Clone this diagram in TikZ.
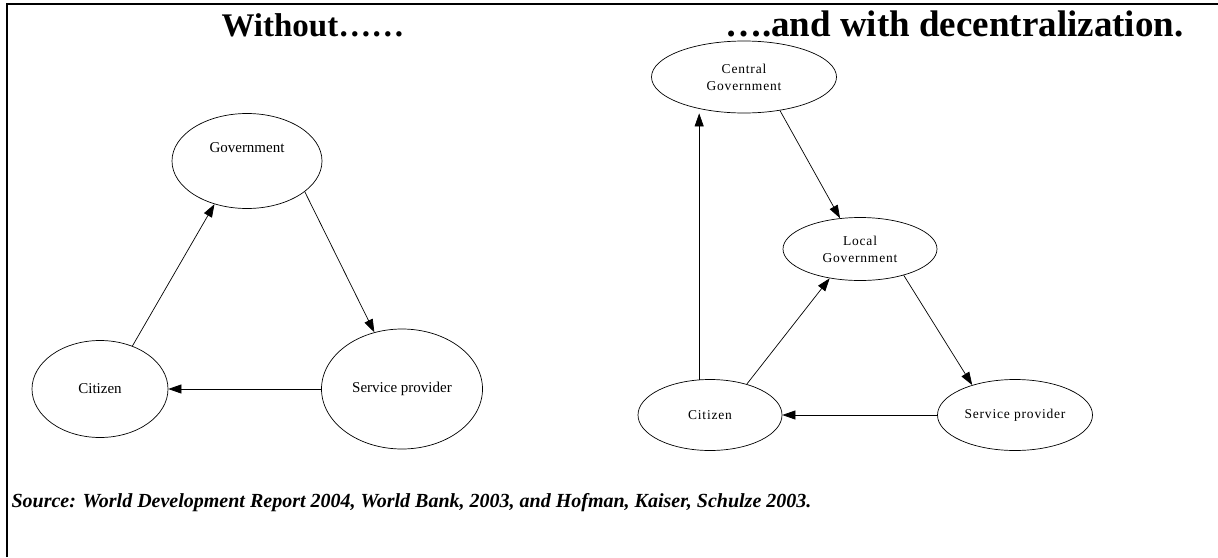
\documentclass[tikz,border=0pt]{standalone}
\usepackage{fontspec}
\setmainfont{Liberation Serif}
\usetikzlibrary{shapes.geometric,arrows.meta}

\begin{document}
\begin{tikzpicture}[x=1pt,y=-1pt,
  >={Triangle[length=13pt,width=9pt]},
  bubble/.style={ellipse,draw,line width=0.7pt,inner sep=0pt,font=\fontsize{15}{18}\selectfont},
  sbubble/.style={ellipse,draw,line width=0.7pt,inner sep=0pt,align=center,
    font=\fontsize{13.5}{17}\selectfont\addfontfeature{LetterSpace=6}},
  link/.style={->,line width=0.7pt}]

\useasboundingbox (0,0) rectangle (1218,557);

% Frame
\draw[line width=2pt] (7,557) -- (7,4) -- (1218,4);

% Headings
\node[anchor=base west,font=\fontsize{33}{36}\selectfont\bfseries] (hleft) at (218,36) {Without……};
\node[anchor=base east,font=\fontsize{37}{40}\selectfont\bfseries] (hright) at (1187,36) {….and with decentralization.};

% Left: without decentralization
\node[bubble,minimum width=150pt,minimum height=95pt,text depth=26pt] (gov) at (247,161) {Government};
\node[bubble,minimum width=136pt,minimum height=97pt] (cit) at (100,389) {Citizen};
\node[bubble,minimum width=161pt,minimum height=120pt] (sp) at (402,389) {Service provider};

\foreach \a/\b in {cit.53/gov.233, gov.332/sp.116, sp.180/cit.0}
  \draw[link] (\a) -- (\b);

% Right: with decentralization
\node[sbubble,minimum width=185pt,minimum height=72pt] (cgov) at (744,77) {Central\\Government};
\node[sbubble,minimum width=154pt,minimum height=63pt] (lgov) at (860,249) {Local\\Government};
\node[sbubble,minimum width=144pt,minimum height=71pt] (rcit) at (710,415) {Citizen};
\node[sbubble,minimum width=155pt,minimum height=71pt] (rsp) at (1015,415) {Service provider};

\foreach \a/\b in {cgov.317/lgov.123, rcit.40/lgov.224, lgov.329/rsp.145, rsp.180/rcit.0}
  \draw[link] (\a) -- (\b);
\draw[link] (rcit.107) -- (rcit.107 |- cgov.south);

% Source
\node[anchor=west,font=\fontsize{20}{24}\selectfont\bfseries\itshape] (src) at (8,503)
  {Source: World Development Report 2004, World Bank, 2003, and Hofman, Kaiser, Schulze 2003.};

\end{tikzpicture}
\end{document}
